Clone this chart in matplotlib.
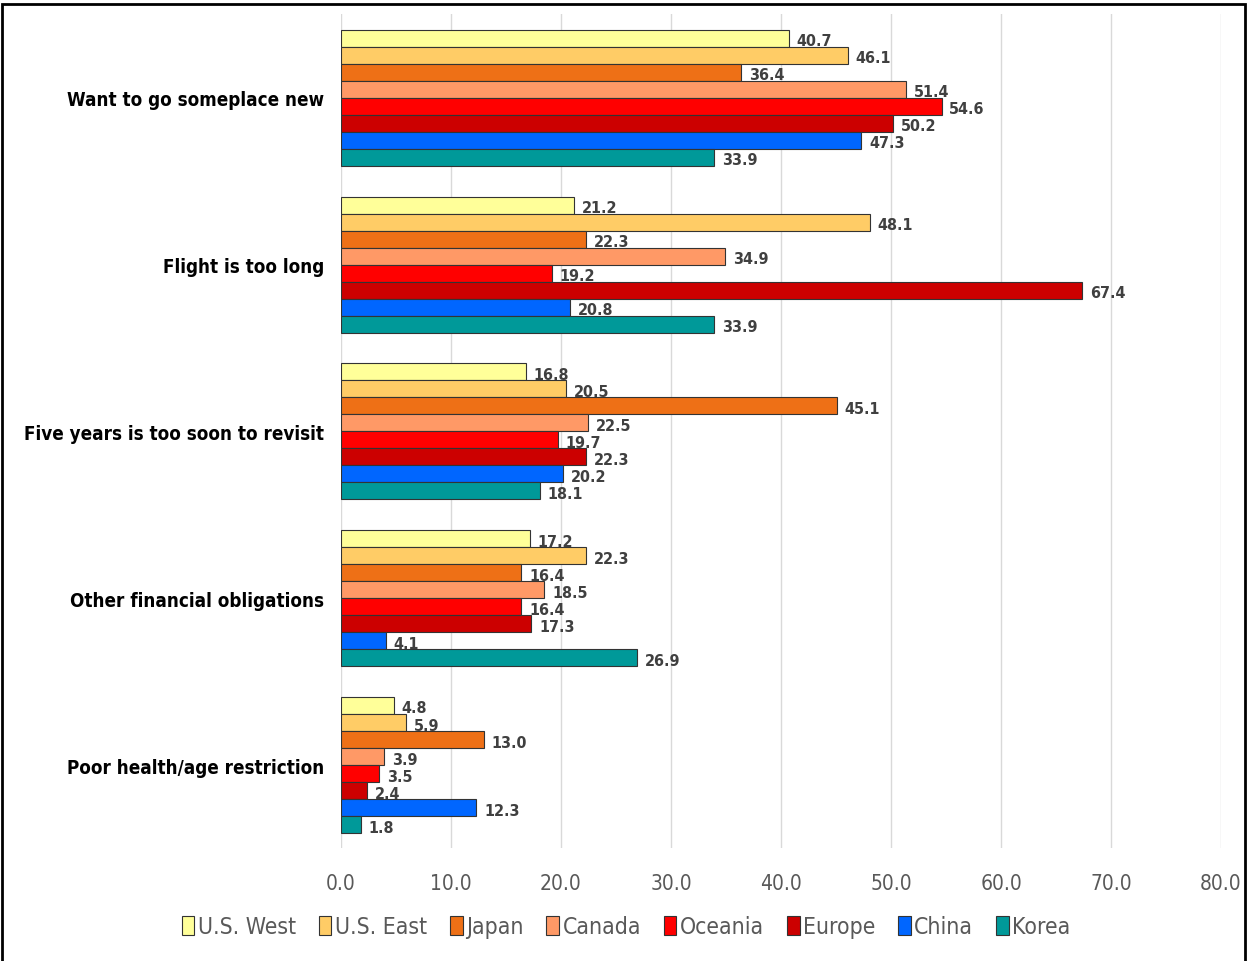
import numpy as np
import matplotlib.pyplot as plt
from matplotlib.patches import Rectangle

plt.rcParams['font.family'] = ['DejaVu Sans']
plt.rcParams['font.stretch'] = 'condensed'

# reasons for not revisiting (%), by market
reasons = [
    "Want to go someplace new",
    "Flight is too long",
    "Five years is too soon to revisit",
    "Other financial obligations",
    "Poor health/age restriction",
]
markets = ["U.S. West", "U.S. East", "Japan", "Canada",
           "Oceania", "Europe", "China", "Korea"]

us_west = [40.7, 21.2, 16.8, 17.2, 4.8]
us_east = [46.1, 48.1, 20.5, 22.3, 5.9]
japan = [36.4, 22.3, 45.1, 16.4, 13.0]
canada = [51.4, 34.9, 22.5, 18.5, 3.9]
oceania = [54.6, 19.2, 19.7, 16.4, 3.5]
europe = [50.2, 67.4, 22.3, 17.3, 2.4]
china = [47.3, 20.8, 20.2, 4.1, 12.3]
korea = [33.9, 33.9, 18.1, 26.9, 1.8]

series = [us_west, us_east, japan, canada, oceania, europe, china, korea]
colors = ["#FFFF99", "#FFCC66", "#EE7016", "#FF9966",
          "#FF0000", "#CC0000", "#0066FF", "#009999"]

fig = plt.figure(figsize=(12.49, 9.62), dpi=100)
ax = fig.add_axes([0.273, 0.117, 0.7046, 0.867])

n = len(series)
bar_h = 0.102
ypos = np.arange(len(reasons))

for i, (vals, col, name) in enumerate(zip(series, colors, markets)):
    offs = (i - (n - 1) / 2) * bar_h
    ax.barh(ypos + offs, vals, height=bar_h, color=col,
            edgecolor="#333333", linewidth=0.8, label=name, zorder=3)
    for y, v in zip(ypos + offs, vals):
        ax.text(v + 0.7, y + 0.015, f"{v:.1f}", va="center", ha="left",
                fontsize=11.5, fontweight="bold", color="#404040", zorder=4)

ax.set_xlim(0, 80)
ax.set_ylim(len(reasons) - 0.5, -0.5)
ax.set_xticks(np.arange(0, 81, 10))
ax.set_xticklabels([f"{t:.1f}" for t in np.arange(0, 81, 10)],
                   fontsize=15, color="#595959")
ax.set_yticks(ypos)
ax.set_yticklabels(reasons, fontsize=13.5, fontweight="bold", color="black")
ax.tick_params(axis="both", length=0)
ax.tick_params(axis="x", pad=18)
ax.tick_params(axis="y", pad=12)
ax.grid(axis="x", color="#D9D9D9", linewidth=1, zorder=0)
for s in ax.spines.values():
    s.set_visible(False)

leg = ax.legend(loc="center", bbox_to_anchor=(0.324, -0.094),
                ncol=8, frameon=False, fontsize=16.5, handlelength=0.55,
                handleheight=0.9, handletextpad=0.15, columnspacing=1.0)
for t in leg.get_texts():
    t.set_color("#595959")
for h in leg.legend_handles:
    h.set_edgecolor("#333333")
    h.set_linewidth(0.8)

# outer frame
fig.patches.append(Rectangle((0.002, -0.01), 0.995, 1.005, transform=fig.transFigure,
                             fill=False, edgecolor="black", linewidth=2))

fig.savefig("out.png", dpi=100)
